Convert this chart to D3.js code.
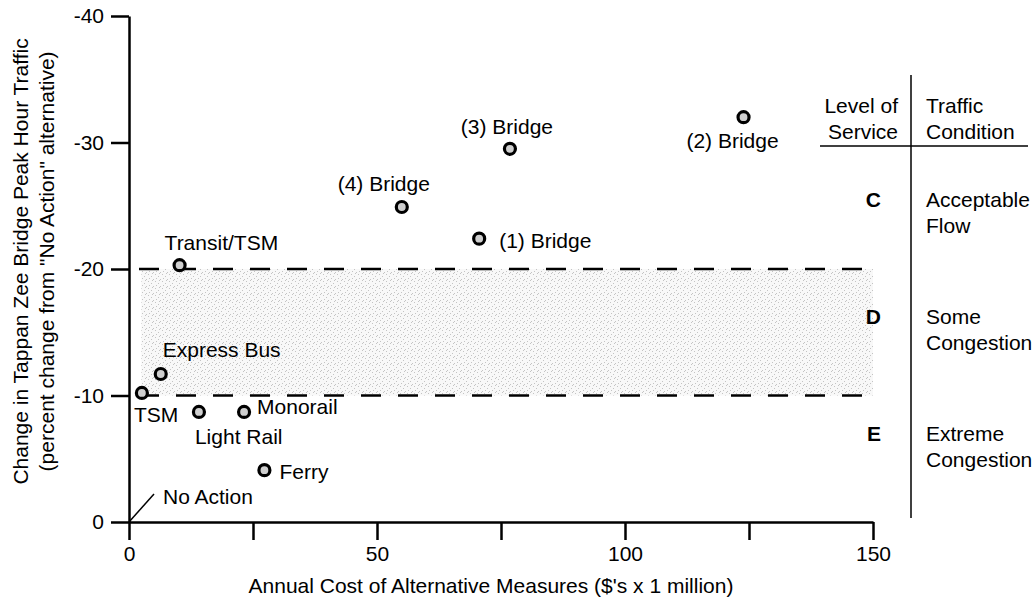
<!DOCTYPE html>
<html>
<head>
<meta charset="utf-8">
<script src="https://cdn.jsdelivr.net/npm/d3@7"></script>
<style>
  body { margin: 0; background: #fff; }
  svg text { font-family: "Liberation Sans", Arial, Helvetica, sans-serif; fill: #000; }
</style>
</head>
<body>
<div id="chart"></div>
<script>
// alternatives: cost ($ million / yr) vs change in peak hour traffic (%)
const names = ["Transit/TSM", "Express Bus", "TSM", "Light Rail", "Monorail", "Ferry",
               "(4) Bridge", "(3) Bridge", "(1) Bridge", "(2) Bridge"];
const costs = [10.2, 6.4, 2.6, 14.1, 23.2, 27.3, 55.0, 76.8, 70.6, 123.9];
const changes = [-20.3, -11.7, -10.2, -8.7, -8.7, -4.1, -24.9, -29.5, -22.4, -32.0];

// level of service bands
const losLetters = ["C", "D", "E"];
const losConditions = [["Acceptable", "Flow"], ["Some", "Congestion"], ["Extreme", "Congestion"]];
const losCenters = [-25.5, -16.2, -7];
const losBreaks = [-20, -10];

const xTicks = [0, 25, 50, 75, 100, 125, 150];
const xLabels = [0, 50, 100, 150];
const yTicks = [0, -10, -20, -30, -40];

const W = 1035, H = 609;
const FS = "21px";

const svg = d3.select("#chart").append("svg")
    .attr("width", W)
    .attr("height", H);

const x = d3.scaleLinear().domain([0, 150]).range([129, 873]);
const y = d3.scaleLinear().domain([0, -40]).range([522, 16]);

// stipple pattern for band D
let pat = svg.append("defs").append("pattern")
    .attr("id", "stipple")
    .attr("width", 7).attr("height", 7)
    .attr("patternUnits", "userSpaceOnUse");
pat.append("rect").attr("width", 7).attr("height", 7).attr("fill", "#f8f8f8");
[[1, 1], [4, 3], [2, 5], [6, 6], [5, 0]].forEach(p => {
    pat.append("rect").attr("x", p[0]).attr("y", p[1]).attr("width", 1).attr("height", 1).attr("fill", "#c4c4c4");
});

svg.append("rect")
    .attr("x", x(2.5))
    .attr("y", y(losBreaks[0]))
    .attr("width", x(150) - x(2.5))
    .attr("height", y(losBreaks[1]) - y(losBreaks[0]))
    .attr("fill", "url(#stipple)");

// dashed LOS boundaries
svg.selectAll(".los-line")
    .data(losBreaks)
    .enter()
    .append("line")
    .attr("class", "los-line")
    .attr("x1", x(0))
    .attr("x2", x(150))
    .attr("y1", d => y(d))
    .attr("y2", d => y(d))
    .attr("stroke", "#000")
    .attr("stroke-width", 2.5)
    .attr("stroke-dasharray", "20,17")
    .attr("stroke-dashoffset", -10);

// axes
let xAxis = d3.axisBottom(x)
    .tickValues(xTicks)
    .tickSize(18)
    .tickSizeOuter(0)
    .tickPadding(6)
    .tickFormat(d => xLabels.includes(d) ? d : "");

let yAxis = d3.axisLeft(y)
    .tickValues(yTicks)
    .tickSize(18)
    .tickSizeOuter(0)
    .tickPadding(7)
    .tickFormat(d => d);

let gx = svg.append("g")
    .attr("transform", "translate(0," + y(0) + ")")
    .call(xAxis);
let gy = svg.append("g")
    .attr("transform", "translate(" + x(0) + ",0)")
    .call(yAxis);

[gx, gy].forEach(g => {
    g.select(".domain").attr("stroke-width", 2.5);
    g.selectAll(".tick line").attr("stroke-width", 2.5);
    g.selectAll(".tick text")
        .style("font-family", "'Liberation Sans', Arial, sans-serif")
        .style("font-size", FS)
        .attr("fill", "#000");
});

// axis titles
svg.append("text")
    .attr("x", (x(0) + x(150)) / 2 - 10)
    .attr("y", 593)
    .attr("text-anchor", "middle")
    .style("font-size", FS)
    .text("Annual Cost of Alternative Measures ($'s x 1 million)");

let yt = svg.append("text")
    .attr("transform", "translate(28," + y(-20.6) + ") rotate(-90)")
    .attr("text-anchor", "middle")
    .style("font-size", FS);
yt.append("tspan").attr("x", 0).attr("dy", 0).text("Change in Tappan Zee Bridge Peak Hour Traffic");
yt.append("tspan").attr("x", 0).attr("dy", 26).text("(percent change from \"No Action\" alternative)");

// point labels: [dx, dy, anchor] from the marker
const labelOffsets = {
    "Transit/TSM": [-15, -23, "start"], "Express Bus": [2, -24, "start"], "TSM": [-8, 22, "start"],
    "Light Rail": [-4, 25, "start"], "Monorail": [13, -5, "start"], "Ferry": [15, 2, "start"],
    "(4) Bridge": [-18, -23, "middle"], "(3) Bridge": [-3, -22, "middle"], "(1) Bridge": [20, 2, "start"],
    "(2) Bridge": [-11, 23, "middle"]
};

let points = names.map((n, i) => ({name: n, cost: costs[i], change: changes[i]}));

svg.selectAll(".pt-label")
    .data(points)
    .enter()
    .append("text")
    .attr("class", "pt-label")
    .attr("x", d => x(d.cost) + labelOffsets[d.name][0])
    .attr("y", d => y(d.change) + labelOffsets[d.name][1])
    .attr("dy", "0.35em")
    .attr("text-anchor", d => labelOffsets[d.name][2])
    .style("font-size", FS)
    .text(d => d.name);

svg.selectAll(".pt")
    .data(points)
    .enter()
    .append("circle")
    .attr("class", "pt")
    .attr("cx", d => x(d.cost))
    .attr("cy", d => y(d.change))
    .attr("r", 5.5)
    .attr("fill", "#cfcfcf")
    .attr("stroke", "#000")
    .attr("stroke-width", 3.2);

// No Action at origin with leader
svg.append("line")
    .attr("x1", x(0)).attr("y1", y(0))
    .attr("x2", x(0) + 25).attr("y2", y(0) - 28)
    .attr("stroke", "#000")
    .attr("stroke-width", 1.5);
svg.append("text")
    .attr("x", x(0) + 34)
    .attr("y", y(0) - 25)
    .attr("dy", "0.35em")
    .style("font-size", FS)
    .text("No Action");

// level of service table on the right
const divX = 911;
svg.append("line")
    .attr("x1", divX).attr("x2", divX)
    .attr("y1", 75).attr("y2", 518)
    .attr("stroke", "#000").attr("stroke-width", 1.5);
svg.append("line")
    .attr("x1", 820).attr("x2", 1028)
    .attr("y1", 146).attr("y2", 146)
    .attr("stroke", "#000").attr("stroke-width", 1.5);

let h1 = svg.append("text").attr("text-anchor", "end").style("font-size", FS);
h1.append("tspan").attr("x", 898).attr("y", 113).text("Level of");
h1.append("tspan").attr("x", 898).attr("y", 139).text("Service");
let h2 = svg.append("text").style("font-size", FS);
h2.append("tspan").attr("x", 926).attr("y", 113).text("Traffic");
h2.append("tspan").attr("x", 926).attr("y", 139).text("Condition");

svg.selectAll(".los-letter")
    .data(losLetters)
    .enter()
    .append("text")
    .attr("class", "los-letter")
    .attr("x", 881)
    .attr("y", (d, i) => y(losCenters[i]))
    .attr("dy", "0.35em")
    .attr("text-anchor", "end")
    .style("font-size", FS)
    .style("font-weight", "bold")
    .text(d => d);

losConditions.forEach((lines, i) => {
    let t = svg.append("text").style("font-size", FS);
    lines.forEach((s, j) => {
        t.append("tspan")
            .attr("x", 926)
            .attr("y", y(losCenters[i]) + j * 26)
            .attr("dy", "0.35em")
            .text(s);
    });
});
</script>
</body>
</html>
